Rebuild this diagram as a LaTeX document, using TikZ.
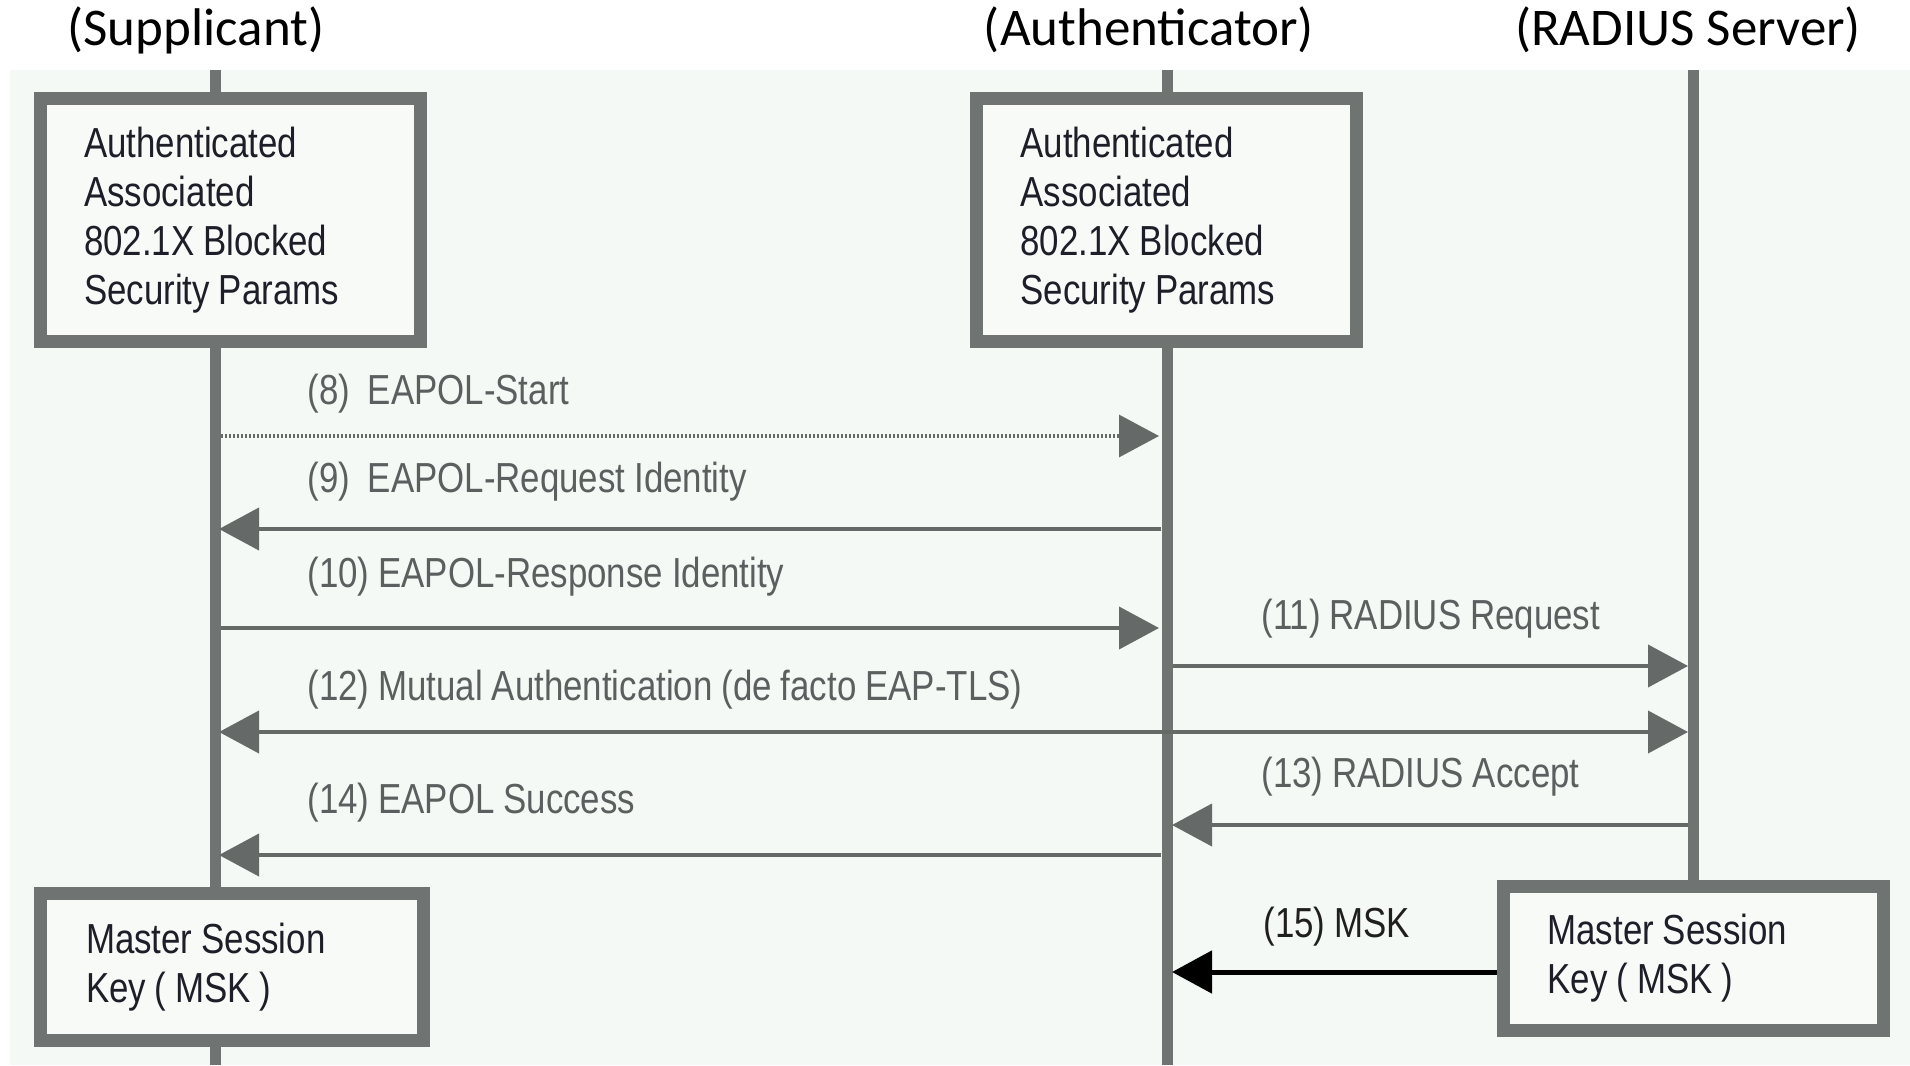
\documentclass[tikz,border=0pt]{standalone}
\usepackage{fontspec}
\setmainfont{Liberation Sans}
\newfontfamily\narrowfont[FakeStretch=0.83,WordSpace=0.92]{Liberation Sans}
\newfontfamily\titlefont{Carlito}
\usetikzlibrary{arrows.meta}
\definecolor{bg}{HTML}{F5F9F5}
\definecolor{boxgrey}{HTML}{6F7371}
\definecolor{linegrey}{HTML}{6F7371}
\definecolor{arrgrey}{HTML}{656967}
\definecolor{labgrey}{HTML}{5B5F5F}
\definecolor{boxtext}{HTML}{1E1E28}
\definecolor{boxfill}{HTML}{F8FAF8}
\begin{document}
\begin{tikzpicture}[x=0.5pt,y=-0.5pt,
  statebox/.style={draw=boxgrey, line width=6.5pt, fill=boxfill, minimum width=190pt,
    inner sep=0pt, text width=146pt, align=flush left, text=boxtext,
    font=\narrowfont\fontsize{21}{24.4}\selectfont},
  lifeline/.style={draw=linegrey, line width=5.5pt},
  msg/.style={draw=arrgrey, line width=2pt, -{Triangle[length=20pt,width=21pt]}},
  msglabel/.style={anchor=base west, inner sep=0pt, text=labgrey,
    font=\narrowfont\fontsize{21}{24}\selectfont},
  role/.style={anchor=base, inner sep=0pt, font=\titlefont\fontsize{26.5}{30}\selectfont}
]
\path[use as bounding box, fill=white] (0,0) rectangle (1910,1065);
\fill[bg] (10,70) rectangle (1910,1065);

% titles
\node[role] (tS) at (196,46) {(Supplicant)};
\node[role] (tA) at (1149,46) {(Authenticator)};
\node[role] (tR) at (1688,46) {(RADIUS Server)};

% lifeline ends
\coordinate (supT) at (215,70);
\coordinate (supB) at (215,1065);
\coordinate (autT) at (1167,70);
\coordinate (autB) at (1167,1065);
\coordinate (radT) at (1693,70);

% boxes
\node[statebox, minimum height=121.5pt] (s1) at (230,220)
  {Authenticated\\Associated\\802.1X Blocked\\Security Params};
\node[statebox, minimum height=121.5pt] (a1) at (1166.5,220)
  {Authenticated\\Associated\\802.1X Blocked\\Security Params};
\node[statebox, minimum height=73.5pt, minimum width=191.5pt] (s2) at (232,967)
  {Master Session\\Key ( MSK )};
\node[statebox, minimum height=72pt] (r2) at (1693.5,958.5)
  {Master Session\\Key ( MSK )};

% lifelines
\draw[lifeline] (supT) -- (supT |- s1.north);
\draw[lifeline] (supT |- s1.south) -- (supT |- s2.north);
\draw[lifeline] (supT |- s2.south) -- (supB);
\draw[lifeline] (autT) -- (autT |- a1.north);
\draw[lifeline] (autT |- a1.south) -- (autB);
\draw[lifeline] (radT) -- (radT |- r2.north);

% message end points
\coordinate (m8a) at (221,436);  \coordinate (m8b) at (1159,436);
\coordinate (m9a) at (1161,529); \coordinate (m9b) at (219,529);
\coordinate (m10a) at (221,628); \coordinate (m10b) at (1159,628);
\coordinate (m11a) at (1173,666); \coordinate (m11b) at (1688,666);
\coordinate (m12a) at (219,732); \coordinate (m12b) at (1688,732);
\coordinate (m13a) at (1688,825); \coordinate (m13b) at (1172,825);
\coordinate (m14a) at (1161,855); \coordinate (m14b) at (219,855);
\coordinate (m15b) at (1172,972);

% messages
\draw[msg, line width=1.6pt, dash pattern=on 1.2pt off 0.8pt] (m8a) -- (m8b);
\draw[msg] (m9a) -- (m9b);
\draw[msg] (m10a) -- (m10b);
\draw[msg] (m11a) -- (m11b);
\draw[msg, {Triangle[length=20pt,width=21pt]}-{Triangle[length=20pt,width=21pt]}] (m12a) -- (m12b);
\draw[msg] (m13a) -- (m13b);
\draw[msg] (m14a) -- (m14b);
\draw[msg, draw=black, line width=2.5pt] (r2.west |- m15b) -- (m15b);

% labels
\node[msglabel] (l8) at (307,404) {(8)\ \ EAPOL-Start};
\node[msglabel] (l9) at (307,492) {(9)\ \ EAPOL-Request Identity};
\node[msglabel] (l10) at (307,587) {(10) EAPOL-Response Identity};
\node[msglabel] (l11) at (1261,629) {(11) RADIUS Request};
\node[msglabel] (l12) at (307,700) {(12) Mutual Authentication (de facto EAP-TLS)};
\node[msglabel] (l13) at (1261,787) {(13) RADIUS Accept};
\node[msglabel] (l14) at (307,813) {(14) EAPOL Success};
\node[msglabel, text=black!88] (l15) at (1263,937) {(15) MSK};
\end{tikzpicture}
\end{document}
